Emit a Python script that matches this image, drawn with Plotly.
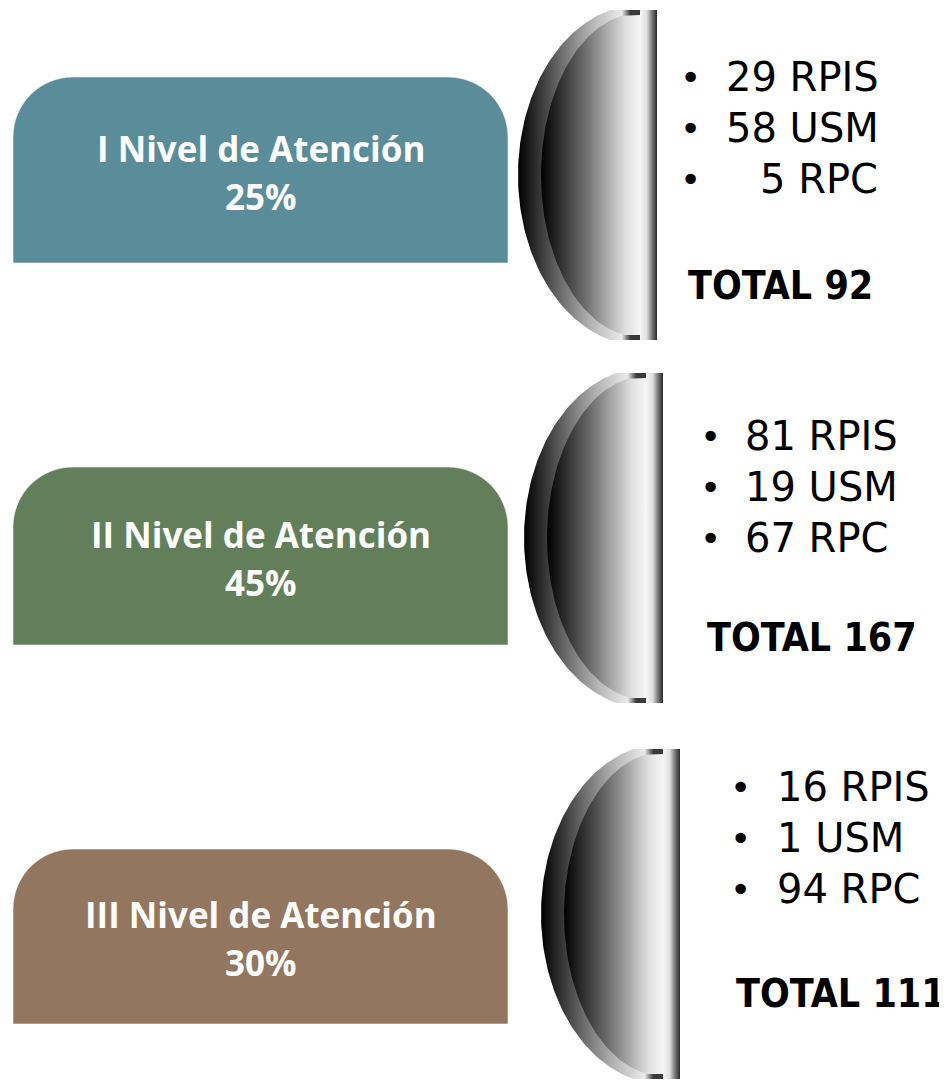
import numpy as np
import plotly.graph_objects as go

# ---------------- data ----------------
levels = ["I Nivel de Atención", "II Nivel de Atención", "III Nivel de Atención"]
percents = [25, 45, 30]
units = ["RPIS", "USM", "RPC"]
rpis = [29, 81, 16]
usm = [58, 19, 1]
rpc = [5, 67, 94]
box_colors = ["#5a8d99", "#637e5a", "#937660"]

# ---------------- layout constants (page pixels) ----------------
W, H = 947, 1081
PAGE_MARGIN = 8  # default body margin of the html page
box_left, box_right, box_r = 13, 508, 60
box_top = [77, 467, 849]
box_bottom = [263, 645, 1024]
dome_cx = [640, 646, 663]
dome_cy = [175, 538, 914]
dome_a, dome_b, dome_clip = 122, 170, 165
inner_a, inner_b, inner_clip = 99, 162, 160
bar_w = 17
bullet_x = [690, 710, 740]
text_x = [724, 743, 775]
total_x = [686, 705, 734]
line1_y = [77, 436, 787]
line_gap = 51
total_y = [285, 637, 993]
indent = {(0, 2): 34}

outer_scale = [[0, "#000000"], [0.35, "#6c6c6c"], [0.6, "#b4b4b4"], [0.85, "#ebebeb"],
               [0.92, "#3a3a3a"], [1, "#3a3a3a"]]
bar_scale = [[0, "#f6f6f6"], [0.4, "#dedede"], [0.7, "#7a7a7a"], [1, "#2a2a2a"]]
inner_scale = [[0, "#000000"], [0.45, "#6e6e6e"], [0.85, "#dedede"], [1, "#f6f6f6"]]

fig = go.Figure()


def half_ellipse(cx, cy, a, b, clip):
    t0 = np.arcsin(clip / b)
    t = np.linspace(-t0, t0, 120)
    xs = list(cx - a * np.cos(t))
    ys = list(cy + b * np.sin(t))
    xs = [cx] + xs + [cx, cx]
    ys = [cy - clip] + ys + [cy + clip, cy - clip]
    return xs, ys


def rounded_box(x0, y0, x1, y1, r):
    k = 0.5523 * r
    return (f"M {x0},{y1} L {x0},{y0 + r} "
            f"C {x0},{y0 + r - k} {x0 + r - k},{y0} {x0 + r},{y0} "
            f"L {x1 - r},{y0} "
            f"C {x1 - r + k},{y0} {x1},{y0 + r - k} {x1},{y0 + r} "
            f"L {x1},{y1} Z")


shapes = []
annotations = []
for i, name in enumerate(levels):
    # rounded box
    shapes.append(dict(type="path", xref="x", yref="y",
                       path=rounded_box(box_left, box_top[i], box_right, box_bottom[i], box_r),
                       fillcolor=box_colors[i], line=dict(color="rgba(255,255,255,0.55)", width=1),
                       layer="below"))
    cy_box = (box_top[i] + box_bottom[i]) / 2
    annotations.append(dict(x=(box_left + box_right) / 2, y=cy_box - 22, xref="x", yref="y",
                            text=f"<b>{name}</b>", showarrow=False, xanchor="center", yanchor="middle",
                            font=dict(family="Open Sans", size=35, color="white")))
    annotations.append(dict(x=(box_left + box_right) / 2, y=cy_box + 26, xref="x", yref="y",
                            text=f"<b>{percents[i]}%</b>", showarrow=False, xanchor="center", yanchor="middle",
                            font=dict(family="Open Sans", size=35, color="white")))

    # dome: outer half-ellipse
    cx, cy = dome_cx[i], dome_cy[i]
    xs, ys = half_ellipse(cx, cy, dome_a, dome_b, dome_clip)
    fig.add_trace(go.Scatter(x=xs, y=ys, mode="lines", fill="toself", line=dict(width=0),
                             fillgradient=dict(type="horizontal", colorscale=outer_scale),
                             hoverinfo="skip", showlegend=False))
    # vertical bar
    bx = [cx, cx + bar_w, cx + bar_w, cx, cx]
    by = [cy - dome_clip, cy - dome_clip, cy + dome_clip, cy + dome_clip, cy - dome_clip]
    fig.add_trace(go.Scatter(x=bx, y=by, mode="lines", fill="toself", line=dict(width=0),
                             fillgradient=dict(type="horizontal", colorscale=bar_scale),
                             hoverinfo="skip", showlegend=False))
    # inner half-ellipse
    xs, ys = half_ellipse(cx, cy, inner_a, inner_b, inner_clip)
    fig.add_trace(go.Scatter(x=xs, y=ys, mode="lines", fill="toself", line=dict(width=0),
                             fillgradient=dict(type="horizontal", colorscale=inner_scale),
                             hoverinfo="skip", showlegend=False))

    # bullet list
    values = [rpis[i], usm[i], rpc[i]]
    for j, (v, u) in enumerate(zip(values, units)):
        y = line1_y[i] + j * line_gap
        annotations.append(dict(x=bullet_x[i], y=y, xref="x", yref="y", text="•", showarrow=False,
                                xanchor="center", yanchor="middle",
                                font=dict(family="DejaVu Sans", size=36, color="black")))
        annotations.append(dict(x=text_x[i] + indent.get((i, j), 0), y=y, xref="x", yref="y",
                                text=f"{v} {u}", showarrow=False, xanchor="left", yanchor="middle",
                                font=dict(family="DejaVu Sans", size=40, color="black")))
    total = sum(values)
    annotations.append(dict(x=total_x[i], y=total_y[i], xref="x", yref="y",
                            text=f"<b>TOTAL {total}</b>", showarrow=False, xanchor="left", yanchor="middle",
                            font=dict(family="DejaVu Sans Condensed, DejaVu Sans", size=39, color="black")))

# The figure sits inside the page's body margin, so map the axes to page pixels.
fig.update_layout(
    width=W - PAGE_MARGIN, height=H - PAGE_MARGIN, margin=dict(l=0, r=0, t=0, b=0),
    paper_bgcolor="white", plot_bgcolor="white",
    xaxis=dict(range=[PAGE_MARGIN, W], visible=False, fixedrange=True),
    yaxis=dict(range=[H, PAGE_MARGIN], visible=False, fixedrange=True),
    shapes=shapes, annotations=annotations, showlegend=False,
)

fig.write_html("out.html")
